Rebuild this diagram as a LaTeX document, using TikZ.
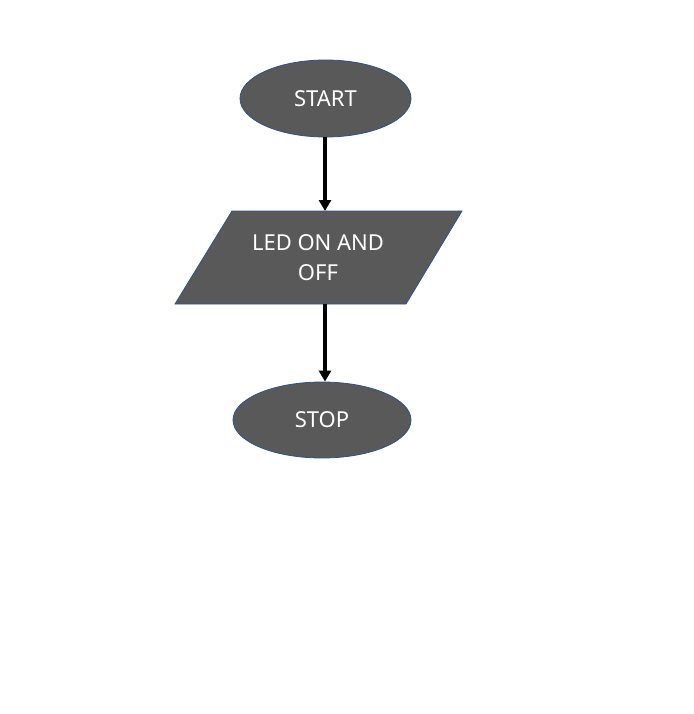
\documentclass[tikz,border=0pt]{standalone}
\usepackage{fontspec}
\setmainfont{Noto Sans}
\usetikzlibrary{shapes.geometric,arrows.meta}
\definecolor{shapefill}{HTML}{595959}
\definecolor{shapeedge}{HTML}{2F528F}
\tikzset{
  term/.style={ellipse, fill=shapefill, draw=shapeedge, line width=0.8pt},
  io/.style={fill=shapefill, draw=shapeedge, line width=0.8pt},
  lbl/.style={text=white, font=\fontsize{22}{30}\selectfont, align=center},
  flow/.style={draw=black, line width=3.6pt, -{Triangle[length=11pt,width=12pt]}}
}
\begin{document}
\begin{tikzpicture}[x=1pt,y=-1pt]
\useasboundingbox (0,0) rectangle (693,714);
\fill[white] (0,0) rectangle (693,714);
\node[term, minimum width=171pt, minimum height=77pt, inner sep=0pt] (start) at (325.5,98.5) {};
\node[lbl] at (start.center) {START};
\draw[io] (232,211) -- (462,211) -- (406,304) -- (175,304) -- cycle;
\coordinate (iotop) at (325,211);
\coordinate (iobot) at (325,304);
\node[lbl] (io) at (318,258) {LED ON AND\\OFF};
\node[term, minimum width=178pt, minimum height=76pt, inner sep=0pt] (stop) at (322,420) {};
\node[lbl] at (stop.center) {STOP};
\draw[flow] (start.south -| iotop) -- (iotop);
\draw[flow] (iobot) -- (stop.north -| iobot);
\end{tikzpicture}
\end{document}
